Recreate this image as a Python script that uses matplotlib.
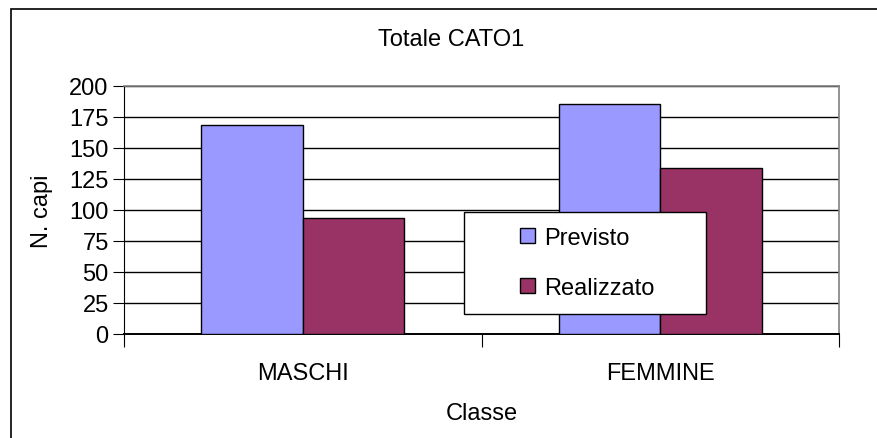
import matplotlib
matplotlib.use("Agg")
import matplotlib.pyplot as plt
from matplotlib.patches import Rectangle
import numpy as np

plt.rcParams['font.family'] = ['Liberation Sans', 'DejaVu Sans']

categories = ["MASCHI", "FEMMINE"]
series_names = ["Previsto", "Realizzato"]
previsto = [168, 185]
realizzato = [93, 134]
y_ticks = [0, 25, 50, 75, 100, 125, 150, 175, 200]
colors = ["#9999FF", "#993366"]

FS = 17
W, H = 877, 439
fig = plt.figure(figsize=(W / 100, H / 100), dpi=100)

# outer chart border (right and bottom edges fall outside the image)
fig.patches.append(Rectangle((11 / W, -0.5), 2.0, 0.5 + (H - 10) / H, transform=fig.transFigure,
                             fill=False, edgecolor="black", linewidth=1.2))

left, right, top, bottom = 124, 839, 86.5, 335
ax = fig.add_axes([left / W, (H - bottom) / H, (right - left) / W, (bottom - top) / H])

x = np.arange(len(categories))
bw = 0.284
ax.bar(x - bw / 2, previsto, bw, color=colors[0], edgecolor="black", linewidth=1.0,
       label=series_names[0], zorder=3)
ax.bar(x + bw / 2, realizzato, bw, color=colors[1], edgecolor="black", linewidth=1.0,
       label=series_names[1], zorder=3)

ax.set_xlim(-0.5, len(categories) - 0.5)
ax.set_ylim(0, 200)
ax.set_yticks(y_ticks)
ax.set_yticklabels([str(t) for t in y_ticks], fontsize=FS)
ax.yaxis.grid(True, color="black", linewidth=1.0, zorder=0)
ax.set_axisbelow(True)

ax.set_xticks(np.arange(len(categories) + 1) - 0.5)
ax.set_xticklabels([])
ax.set_xticks(x, minor=True)
ax.set_xticklabels(categories, minor=True, fontsize=FS)
ax.tick_params(axis="x", which="major", length=9, width=0.8, color="black", direction="out")
ax.tick_params(axis="x", which="minor", length=0, pad=20)
ax.tick_params(axis="y", length=8, width=0.8, direction="out", pad=3)

for s in ["top", "right"]:
    ax.spines[s].set_color("#808080")
    ax.spines[s].set_linewidth(1.2)
ax.spines["left"].set_color("black")
ax.spines["bottom"].set_color("black")
ax.spines["bottom"].set_linewidth(1.4)

ax.set_ylabel("N. capi", fontsize=FS, labelpad=12)
ax.set_xlabel("Classe", fontsize=FS, labelpad=13)
fig.text(451 / W, 1 - 40 / H, "Totale CATO1", fontsize=FS, ha="center", va="center")

ax_w = right - left
ax_h = bottom - top
lx0 = (464 - left) / ax_w
lx1 = (706 - left) / ax_w
ly0 = (bottom - 315) / ax_h
ly1 = (bottom - 212.5) / ax_h
frame = Rectangle((lx0, ly0), lx1 - lx0, ly1 - ly0, transform=ax.transAxes,
                  facecolor="white", edgecolor="black", linewidth=1.0, zorder=5)
ax.add_patch(frame)
leg = ax.legend(loc="center", bbox_to_anchor=((lx0 + lx1) / 2 + 0.003, (ly0 + ly1) / 2),
                fontsize=FS, frameon=False,
                handlelength=0.62, handleheight=0.62, handletextpad=0.4,
                labelspacing=1.2, borderpad=0, borderaxespad=0)
leg.set_zorder(6)

fig.savefig("out.png", dpi=100)
